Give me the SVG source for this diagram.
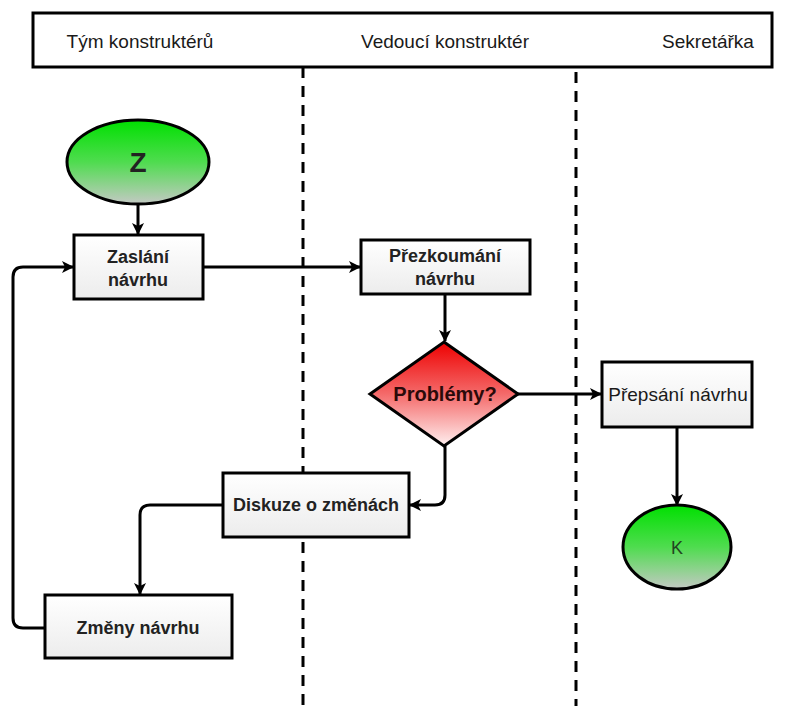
<svg xmlns="http://www.w3.org/2000/svg" width="785" height="706" viewBox="0 0 785 706">
  <style>
    .lane { fill: none; stroke: #000; stroke-width: 3; stroke-dasharray: 11 8; }
    .frame { fill: #fff; stroke: #000; stroke-width: 3; }
    .box { fill: url(#boxFill); stroke: #000; stroke-width: 3; }
    .edge { fill: none; stroke: #000; stroke-width: 3; stroke-linejoin: round; }
    .hdr { font-family: "Liberation Sans", Arial, sans-serif; font-size: 19px; fill: #1a1a1a; text-anchor: middle; }
    .lbl { font-family: "Liberation Sans", Arial, sans-serif; font-size: 18px; font-weight: bold; fill: #222; text-anchor: middle; }
  </style>
  <defs>
    <linearGradient id="boxFill" x1="0" y1="0" x2="0" y2="1">
      <stop offset="0" stop-color="#ffffff"/>
      <stop offset="1" stop-color="#ececec"/>
    </linearGradient>
    <linearGradient id="greenFill" x1="0" y1="0" x2="0" y2="1">
      <stop offset="0" stop-color="#00e000"/>
      <stop offset="0.5" stop-color="#4fdc4f"/>
      <stop offset="1" stop-color="#c4c9c4"/>
    </linearGradient>
    <linearGradient id="redFill" x1="0" y1="0" x2="0" y2="1">
      <stop offset="0" stop-color="#ee0000"/>
      <stop offset="0.5" stop-color="#f46a6a"/>
      <stop offset="1" stop-color="#fff0f0"/>
    </linearGradient>
    <marker id="arrow" viewBox="0 0 12 12" refX="11" refY="6" markerWidth="12" markerHeight="12" markerUnits="userSpaceOnUse" orient="auto">
      <path d="M0,0 L12,6 L0,12 L3,6 Z" fill="#000"/>
    </marker>
  </defs>

  <rect width="785" height="706" fill="#fff"/>

  <!-- swimlane separators -->
  <g id="lanes">
    <line class="lane" x1="303" y1="67" x2="303" y2="706"/>
    <line class="lane" x1="576" y1="72" x2="576" y2="706"/>
  </g>

  <!-- lane header -->
  <g id="header">
    <rect class="frame" x="33" y="13" width="739" height="54"/>
    <text class="hdr" x="140" y="48">Tým konstruktérů</text>
    <text class="hdr" x="445" y="48">Vedoucí konstruktér</text>
    <text class="hdr" x="708" y="48">Sekretářka</text>
  </g>

  <!-- connectors -->
  <g id="connectors">
    <line class="edge" x1="138" y1="204" x2="138" y2="234" marker-end="url(#arrow)"/>
    <line class="edge" x1="203" y1="267" x2="360" y2="267" marker-end="url(#arrow)"/>
    <line class="edge" x1="445" y1="294" x2="445" y2="341" marker-end="url(#arrow)"/>
    <line class="edge" x1="518" y1="394" x2="601" y2="394" marker-end="url(#arrow)"/>
    <line class="edge" x1="677" y1="427" x2="677" y2="505" marker-end="url(#arrow)"/>
    <path class="edge" d="M445,446 L445,495 Q445,505 435,505 L410,505" marker-end="url(#arrow)"/>
    <path class="edge" d="M223,505 L150,505 Q140,505 140,515 L140,594" marker-end="url(#arrow)"/>
    <path class="edge" d="M45,628 L23,628 Q13,628 13,618 L13,277 Q13,267 23,267 L73,267" marker-end="url(#arrow)"/>
  </g>

  <g id="start">
    <ellipse cx="138" cy="162" rx="71" ry="42" fill="url(#greenFill)" stroke="#000" stroke-width="3"/>
    <text x="138" y="172" font-family="Liberation Sans, Arial, sans-serif" font-size="28" font-weight="bold" fill="#222" text-anchor="middle">Z</text>
  </g>

  <g id="zaslani">
    <rect class="box" x="74" y="235" width="129" height="64"/>
    <text class="lbl" x="138" y="263">Zaslání</text>
    <text class="lbl" x="138" y="286">návrhu</text>
  </g>

  <g id="prezkoumani">
    <rect class="box" x="361" y="240" width="169" height="54"/>
    <text class="lbl" x="445" y="262">Přezkoumání</text>
    <text class="lbl" x="445" y="285">návrhu</text>
  </g>

  <g id="problemy">
    <polygon points="444,342 518,394 444,446 370,394" fill="url(#redFill)" stroke="#000" stroke-width="3" stroke-linejoin="miter"/>
    <text x="445" y="401" font-family="Liberation Sans, Arial, sans-serif" font-size="20" font-weight="bold" fill="#2a0a0a" text-anchor="middle">Problémy?</text>
  </g>

  <g id="prepsani">
    <rect class="box" x="602" y="362" width="150" height="65"/>
    <text x="678" y="401" font-family="Liberation Sans, Arial, sans-serif" font-size="19" fill="#1a1a1a" text-anchor="middle">Přepsání návrhu</text>
  </g>

  <g id="end">
    <ellipse cx="677" cy="547" rx="54" ry="42" fill="url(#greenFill)" stroke="#000" stroke-width="3"/>
    <text x="677" y="554" font-family="Liberation Sans, Arial, sans-serif" font-size="18" fill="#224422" text-anchor="middle">K</text>
  </g>

  <g id="diskuze">
    <rect class="box" x="223" y="473" width="186" height="64"/>
    <text class="lbl" x="316" y="511">Diskuze o změnách</text>
  </g>

  <g id="zmeny">
    <rect class="box" x="45" y="595" width="187" height="63"/>
    <text class="lbl" x="138" y="634">Změny návrhu</text>
  </g>
</svg>
